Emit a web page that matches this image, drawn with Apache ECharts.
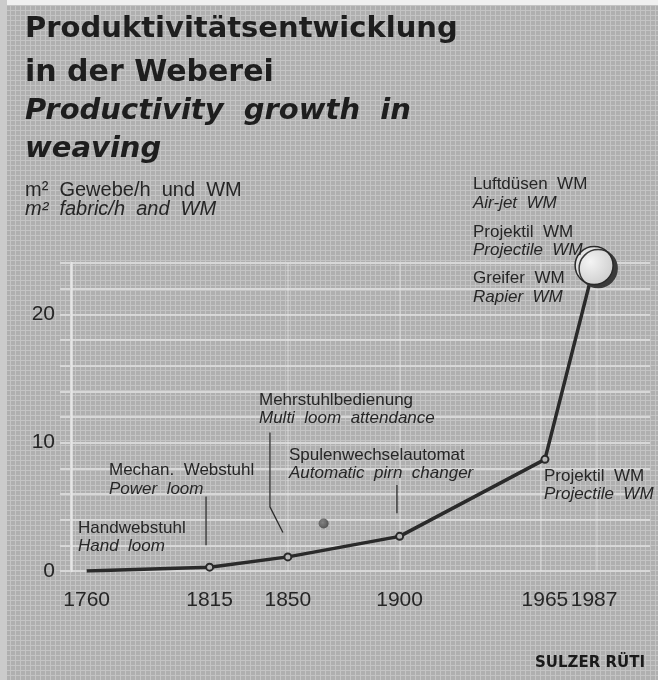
<!DOCTYPE html>
<html>
<head>
<meta charset="utf-8">
<script src="https://cdn.jsdelivr.net/npm/echarts@6/dist/echarts.min.js"></script>
<style>html,body{margin:0;padding:0;background:#b0b0b0}#c{width:658px;height:680px}</style>
</head>
<body>
<div id="c"></div>
<script>
// ---- data ----
const years = [1760, 1815, 1850, 1900, 1965, 1987];
const productivity = [0.0, 0.3, 1.1, 2.7, 8.7, 23.8];
const isolatedPoint = [[1866, 3.7]];
const xTickYears = [1760, 1815, 1850, 1900, 1965, 1987];
const yTickValues = [0, 10, 20];
const leader1815 = [[1813.4, 5.8], [1813.4, 2.0]];
const leader1850 = [[1842.0, 10.8], [1842.0, 5.0], [1847.8, 3.0]];
const leader1900 = [[1898.8, 6.7], [1898.8, 4.5]];
const gridYears = [1850, 1900, 1963, 1988];

const FONT = '"Liberation Sans", Arial, sans-serif';
const TFONT = '"DejaVu Sans", sans-serif';
const INK = '#262626';

// background pattern (fine screen)
const pc = document.createElement('canvas');
pc.width = 5; pc.height = 5;
const pctx = pc.getContext('2d');
pctx.fillStyle = '#afafaf'; pctx.fillRect(0, 0, 5, 5);
pctx.fillStyle = '#c4c4c4'; pctx.fillRect(0, 0, 5, 1); pctx.fillRect(0, 0, 1, 5);

const chart = echarts.init(document.getElementById('c'), null, {renderer: 'canvas'});

const lineData = years.map((y, i) => {
  const d = {value: [y, productivity[i]]};
  if (i === 0) d.symbol = 'none';
  if (i === years.length - 1) {
    d.symbolSize = 38;
    d.itemStyle = {
      color: {type: 'radial', x: 0.4, y: 0.4, r: 0.7, colorStops: [{offset: 0, color: '#f4f4f4'}, {offset: 1, color: '#cacaca'}]},
      borderColor: '#2a2a2a', borderWidth: 1.5,
      shadowColor: '#3a3a3a', shadowOffsetX: 4, shadowOffsetY: 3, shadowBlur: 0
    };
  }
  return d;
});

function leader(data) {
  return {type: 'line', data: data, symbol: 'none', silent: true, z: 3,
    lineStyle: {color: '#2e2e2e', width: 1.3}};
}

function txt(x, y, s, opts) {
  return {type: 'text', x: x, y: y, silent: true, z: 10,
    style: Object.assign({text: s, fill: INK, font: '17px ' + FONT, verticalAlign: 'middle', align: 'left'}, opts || {})};
}
const it = {font: 'italic 17px ' + FONT};

const option = {
  animation: false,
  backgroundColor: {image: pc, repeat: 'repeat'},
  grid: {left: 71, right: 8, top: 263, bottom: 109},
  xAxis: {
    type: 'value', min: 1753, max: 2012,
    axisLine: {show: false}, axisTick: {show: false}, splitLine: {show: false},
    axisLabel: {customValues: xTickYears, color: INK, fontSize: 21, fontFamily: FONT, margin: 19,
      formatter: v => String(v)}
  },
  yAxis: {
    type: 'value', min: 0, max: 24, interval: 2,
    axisLine: {show: true, lineStyle: {color: '#e6e6e6', width: 2.5}},
    axisTick: {show: true, length: 11, lineStyle: {color: '#d8d8d8', width: 2}},
    splitLine: {show: true, lineStyle: {color: '#d8d8d8', width: 2}},
    axisLabel: {color: INK, fontSize: 21, fontFamily: FONT, margin: 16,
      formatter: v => (yTickValues.indexOf(v) >= 0 ? String(v) : '')}
  },
  series: [
    {
      type: 'line', data: [], silent: true,
      markLine: {symbol: 'none', silent: true, label: {show: false},
        lineStyle: {color: 'rgba(235,235,235,0.45)', width: 1.5, type: 'solid'},
        data: gridYears.map(y => ({xAxis: y}))}
    },
    leader(leader1815), leader(leader1850), leader(leader1900),
    {
      type: 'line', data: lineData, z: 5, silent: true,
      symbol: 'circle', symbolSize: 7, showAllSymbol: true,
      lineStyle: {color: '#2a2a2a', width: 3.5},
      itemStyle: {color: '#b6b6b6', borderColor: '#2a2a2a', borderWidth: 2}
    },
    {
      type: 'scatter', data: isolatedPoint, symbolSize: 10, silent: true,
      itemStyle: {color: {type: 'radial', x: 0.4, y: 0.4, r: 0.7, colorStops: [{offset: 0, color: '#777'}, {offset: 1, color: '#333'}]}}
    }
  ],
  graphic: [
    {type: 'rect', shape: {x: 0, y: 0, width: 658, height: 5}, style: {fill: '#f0f0f0'}, silent: true},
    {type: 'rect', shape: {x: 0, y: 0, width: 7, height: 680}, style: {fill: '#cbcbcb'}, silent: true},
    txt(25, 29, 'Produktivitätsentwicklung', {font: 'bold 29px ' + TFONT, fill: '#1e1e1e'}),
    txt(25, 73, 'in der Weberei', {font: 'bold 30px ' + TFONT, fill: '#1e1e1e'}),
    txt(25, 111, 'Productivity  growth  in', {font: 'italic bold 29px ' + TFONT, fill: '#1e1e1e'}),
    txt(25, 149, 'weaving', {font: 'italic bold 29px ' + TFONT, fill: '#1e1e1e'}),
    txt(25, 190, 'm²  Gewebe/h  und  WM', {font: '20px ' + FONT}),
    txt(25, 209, 'm²  fabric/h  and  WM', {font: 'italic 20px ' + FONT}),
    txt(78, 528, 'Handwebstuhl'),
    txt(78, 546, 'Hand  loom', it),
    txt(109, 470, 'Mechan.  Webstuhl'),
    txt(109, 489, 'Power  loom', it),
    txt(259, 400, 'Mehrstuhlbedienung'),
    txt(259, 418, 'Multi  loom  attendance', it),
    txt(289, 455, 'Spulenwechselautomat'),
    txt(289, 473, 'Automatic  pirn  changer', it),
    txt(544, 476, 'Projektil  WM'),
    txt(544, 494, 'Projectile  WM', it),
    txt(473, 184, 'Luftdüsen  WM'),
    txt(473, 203, 'Air-jet  WM', it),
    txt(473, 232, 'Projektil  WM'),
    txt(473, 250, 'Projectile  WM', it),
    txt(473, 278, 'Greifer  WM'),
    txt(473, 297, 'Rapier  WM', it),
    txt(645, 663, 'SULZER RÜTI', {font: 'bold 15px ' + TFONT, align: 'right', fill: '#1a1a1a'})
  ]
};
chart.setOption(option);
</script>
</body>
</html>
